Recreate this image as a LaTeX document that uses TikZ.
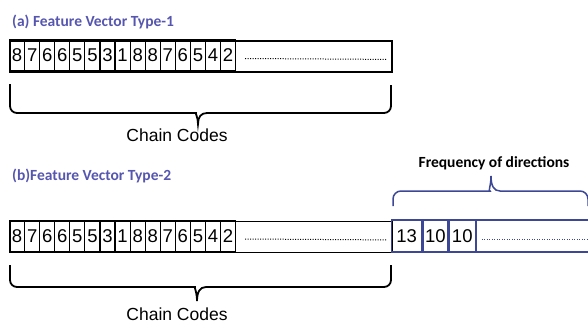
\documentclass[tikz,border=0pt]{standalone}
\usepackage{fontspec}
\setmainfont{Liberation Sans}
\newfontfamily\headfont{Carlito}
\usetikzlibrary{positioning,calc}
\definecolor{headblue}{RGB}{86,86,176}
\definecolor{boxblue}{RGB}{60,72,150}

\begin{document}
\begin{tikzpicture}[x=1pt, y=-1pt,
  font=\fontsize{18.5}{18.5}\selectfont,
  head/.style={anchor=west, inner sep=0pt, font=\headfont\bfseries\fontsize{15.5}{16}\selectfont},
  cell/.style={draw, line width=1.1pt, anchor=west, inner sep=0pt,
    minimum width=15.07pt, minimum height=31pt},
  rowbox/.style={draw, line width=1.8pt, anchor=north west, inner sep=0pt,
    minimum width=382pt, minimum height=31pt},
  freqcell/.style={draw=boxblue, line width=1.3pt, anchor=west, inner sep=0pt,
    minimum height=32pt},
  brk/.style={line width=1.8pt},
  dots/.style={dash pattern=on 0.9pt off 1.6pt, line width=1pt},
  label/.style={inner sep=0pt, font=\fontsize{17.5}{18}\selectfont}
]
\useasboundingbox (0,0) rectangle (588,324);

% (a) type-1 vector
\node[head, text=headblue] (titlea) at (12,22) {(a) Feature Vector Type-1};
\node[rowbox] (rowa) at (9,40) {};
\foreach \d [count=\i] in {8,7,6,6,5,5,3,1,8,8,7,6,5,4,2}
  \node[cell] (a\i) at ({9+15.07*(\i-1)},55.5) {\d};
\draw[dots] ($(a15.east)+(9,3)$) -- ($(rowa.east)+(-6,3)$);

\draw[brk] (10,84) [rounded corners=7pt] |- (189,113) [sharp corners]
  .. controls (195,113) and (198,117) .. (198,124)
  .. controls (198,117) and (201,113) .. (207,113)
  [rounded corners=7pt] -| (391,85);
\node[label] (chaina) at (177,135) {Chain Codes};

% (b) type-2 vector
\node[head, text=headblue] (titleb) at (12,176) {(b)Feature Vector Type-2};
\node[rowbox] (rowb) at (9,220.5) {};
\foreach \d [count=\i] in {8,7,6,6,5,5,3,1,8,8,7,6,5,4,2}
  \node[cell] (b\i) at ({9+15.07*(\i-1)},236) {\d};
\draw[dots] ($(b15.east)+(9,3)$) -- ($(rowb.east)+(-6,3)$);

\node[freqcell, minimum width=30pt] (f1) at (391,236) {13};
\node[freqcell, minimum width=25pt] (f2) at (f1.east) {10};
\node[freqcell, minimum width=26pt] (f3) at (f2.east) {10};
\node[freqcell, minimum width=130pt] (f4) at (f3.east) {};
\draw[dots, boxblue] ($(f3.east)+(6,3)$) -- ($(f4.east)+(-10,3)$);

\draw[brk] (10,265) [rounded corners=7pt] |- (188,287) [sharp corners]
  .. controls (194,287) and (197,292) .. (197,301)
  .. controls (197,292) and (200,287) .. (206,287)
  [rounded corners=7pt] -| (391,265);
\node[label] (chainb) at (177,314) {Chain Codes};

\draw[brk, boxblue, line width=1.5pt] (393,206) [rounded corners=8pt] |- (482,191) [sharp corners]
  .. controls (488,191) and (491,186) .. (491,176)
  .. controls (491,186) and (494,191) .. (500,191)
  [rounded corners=8pt] -| (588,206);
\node[head, anchor=center] (freq) at (494,163) {Frequency of directions};
\end{tikzpicture}
\end{document}
